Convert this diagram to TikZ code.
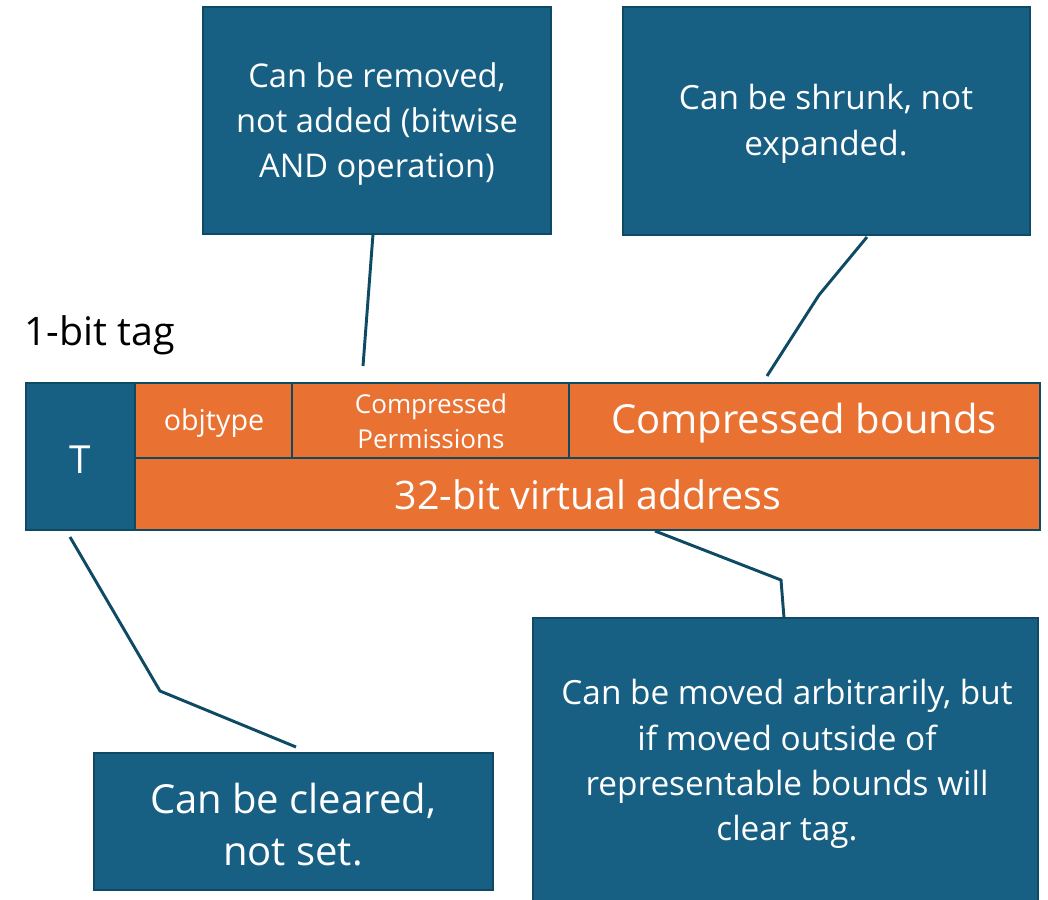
\documentclass[tikz,border=0pt]{standalone}
\usepackage{fontspec}
\setmainfont{Open Sans}
\definecolor{boxblue}{HTML}{176083}
\definecolor{edgeblue}{HTML}{0E4A64}
\definecolor{fieldorange}{HTML}{E97132}
\begin{document}
\begin{tikzpicture}[x=0.75pt,y=-0.75pt,
  note/.style={draw=edgeblue,line width=2.2pt,fill=boxblue,text=white,align=center,inner sep=0pt,font=\fontsize{25}{34}\selectfont},
  field/.style={draw=edgeblue,line width=2.2pt,fill=fieldorange,text=white,align=center,inner sep=0pt},
  tagbox/.style={draw=edgeblue,line width=2.2pt,fill=boxblue,text=white,inner sep=0pt},
  link/.style={draw=edgeblue,line width=2.2pt}]
\clip (0,0) rectangle (1048,899);
\fill[white] (0,0) rectangle (1048,899);

% callout boxes
\path[note] (203,7) rectangle (551,234);
\node[note,draw=none,fill=none,font=\fontsize{24.5}{34}\selectfont] (rem) at (377,124) {Can be removed,\\not added (bitwise\\AND operation)};
\path[note] (623,7) rectangle (1030,235);
\node[note,draw=none,fill=none] (shr) at (826,124) {Can be shrunk, not\\expanded.};
\path[note] (533,618) rectangle (1038,910);
\node[note,draw=none,fill=none] (mov) at (787,764) {Can be moved arbitrarily, but\\if moved outside of\\representable bounds will\\clear tag.};
\path[note] (94,753) rectangle (493,890);
\node[note,draw=none,fill=none,font=\fontsize{30}{39}\selectfont] (clr) at (293,825) {Can be cleared,\\not set.};

% tag label
\node[anchor=west,inner sep=0pt,font=\fontsize{29.5}{32}\selectfont] (lbl) at (24,335) {1-bit tag};

% capability fields
\path[field] (135,458) rectangle (1040,530);
\node[text=white,font=\fontsize{29.5}{32}\selectfont] (va) at (588,495) {32-bit virtual address};
\path[field] (135,383) rectangle (292,458);
\node[text=white,font=\fontsize{21.5}{24}\selectfont] (obj) at (214,423) {objtype};
\path[field] (292,383) rectangle (569,458);
\node[text=white,align=center,font=\fontsize{19.5}{26}\selectfont] (perm) at (431,421) {Compressed\\Permissions};
\path[field] (569,383) rectangle (1040,458);
\node[text=white,font=\fontsize{30}{32}\selectfont] (bnd) at (804,423) {Compressed bounds};
\path[tagbox] (26,383) rectangle (135,530);
\node[text=white,font=\fontsize{29}{32}\selectfont] (tag) at (80,460) {T};
\draw[edgeblue,line width=2.2pt] (26,383) rectangle (1040,530);

% connectors
\coordinate (r1) at (373,234);
\coordinate (r2) at (363,366);
\draw[link] (r1) -- (r2);
\coordinate (s1) at (867,237);
\coordinate (s2) at (819,295);
\coordinate (s3) at (767,376);
\draw[link] (s1) -- (s2) -- (s3);
\coordinate (m1) at (655,531);
\coordinate (m2) at (781,580);
\coordinate (m3) at (784,618);
\draw[link] (m1) -- (m2) -- (m3);
\coordinate (c1) at (70,537);
\coordinate (c2) at (160,691);
\coordinate (c3) at (296,747);
\draw[link] (c1) -- (c2) -- (c3);
\end{tikzpicture}
\end{document}
